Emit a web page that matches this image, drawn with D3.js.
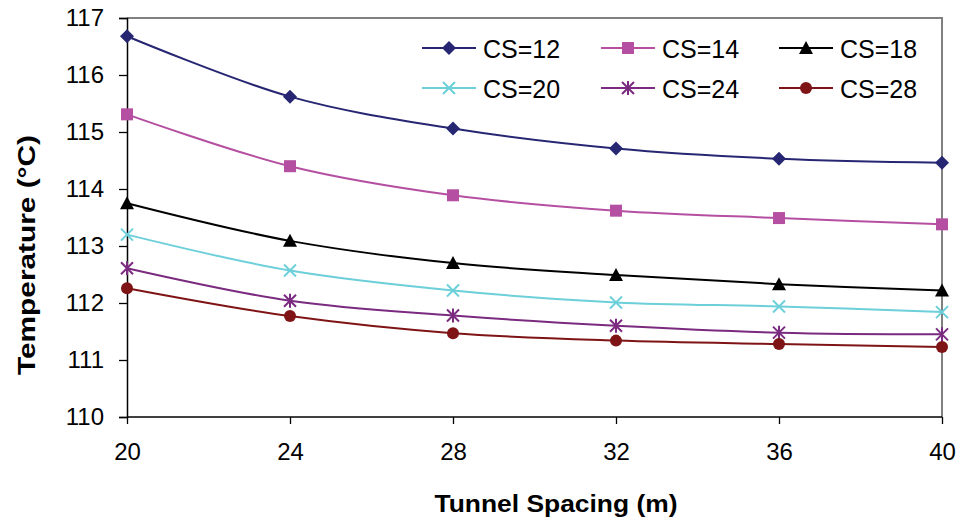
<!DOCTYPE html>
<html>
<head>
<meta charset="utf-8">
<script src="https://cdn.jsdelivr.net/npm/d3@7"></script>
<style>
  html, body { margin: 0; padding: 0; background: #fff; }
  svg { display: block; font-family: Arial, "Liberation Sans", sans-serif; }
</style>
</head>
<body>
<svg id="chart" width="961" height="525"></svg>
<script>
const spacings = [20, 24, 28, 32, 36, 40];
const seriesNames = ["CS=12", "CS=14", "CS=18", "CS=20", "CS=24", "CS=28"];
const cs12 = [116.68, 115.62, 115.06, 114.71, 114.53, 114.46];
const cs14 = [115.31, 114.40, 113.89, 113.62, 113.49, 113.38];
const cs18 = [113.75, 113.09, 112.70, 112.49, 112.33, 112.22];
const cs20 = [113.20, 112.57, 112.22, 112.01, 111.94, 111.84];
const cs24 = [112.61, 112.04, 111.78, 111.60, 111.48, 111.45];
const cs28 = [112.26, 111.77, 111.47, 111.34, 111.28, 111.23];
const yTicks = [110, 111, 112, 113, 114, 115, 116, 117];
const xTicks = [20, 24, 28, 32, 36, 40];

const seriesValues = [cs12, cs14, cs18, cs20, cs24, cs28];
const colors = ["#262673", "#B54FA1", "#000000", "#6CCFD9", "#7A2A7F", "#7F1416"];
const markerTypes = ["diamond", "square", "triangle", "x", "star", "circle"];

const svg = d3.select("#chart");
const pLeft = 127, pRight = 942, pTop = 18, pBottom = 417;

const x = d3.scaleLinear().domain([20, 40]).range([pLeft, pRight]);
const y = d3.scaleLinear().domain([110, 117]).range([pBottom, pTop]);

// plot area border (top & right gray)
svg.append("path")
  .attr("d", `M${pLeft},${pTop}H${pRight}V${pBottom}`)
  .attr("fill", "none").attr("stroke", "#808080").attr("stroke-width", 2);

// axes
const yAxis = svg.append("g").attr("transform", `translate(${pLeft},0)`)
  .call(d3.axisLeft(y).tickValues(yTicks).tickFormat(d3.format("d")).tickSizeOuter(0).tickSize(8).tickPadding(15));
const xAxis = svg.append("g").attr("transform", `translate(0,${pBottom})`)
  .call(d3.axisBottom(x).tickValues(xTicks).tickFormat(d3.format("d")).tickSizeOuter(0).tickSize(7).tickPadding(19));
[yAxis, xAxis].forEach(a => {
  a.select(".domain").attr("stroke", "#000").attr("stroke-width", 1.5);
  a.selectAll(".tick line").attr("stroke", "#000").attr("stroke-width", 1.3);
  a.selectAll(".tick text").attr("fill", "#000").style("font-size", "24px")
    .style("font-family", "Arial, 'Liberation Sans', sans-serif");
});
xAxis.select(".domain").attr("d", `M${pLeft},0H${pRight}`);

// axis titles
svg.append("text")
  .attr("x", 556).attr("y", 512).attr("text-anchor", "middle")
  .attr("textLength", 243).attr("lengthAdjust", "spacingAndGlyphs")
  .style("font-size", "23px").style("font-weight", "bold").text("Tunnel Spacing (m)");
svg.append("text")
  .attr("transform", "translate(35,255) rotate(-90)").attr("text-anchor", "middle")
  .attr("textLength", 240).attr("lengthAdjust", "spacingAndGlyphs")
  .style("font-size", "24px").style("font-weight", "bold").text("Temperature (°C)");

function drawMarker(g, type, color, cx, cy) {
  const s = 6;
  if (type === "diamond") {
    g.append("path").attr("d", `M${cx},${cy - s - 1}L${cx + s + 1},${cy}L${cx},${cy + s + 1}L${cx - s - 1},${cy}Z`).attr("fill", color);
  } else if (type === "square") {
    g.append("rect").attr("x", cx - s).attr("y", cy - s).attr("width", 2 * s).attr("height", 2 * s).attr("fill", color);
  } else if (type === "triangle") {
    g.append("path").attr("d", `M${cx},${cy - s - 1}L${cx + s + 1},${cy + s}L${cx - s - 1},${cy + s}Z`).attr("fill", color);
  } else if (type === "circle") {
    g.append("circle").attr("cx", cx).attr("cy", cy).attr("r", s).attr("fill", color);
  } else if (type === "x") {
    g.append("path").attr("d", `M${cx - s},${cy - s}L${cx + s},${cy + s}M${cx - s},${cy + s}L${cx + s},${cy - s}`)
      .attr("stroke", color).attr("stroke-width", 2).attr("fill", "none");
  } else if (type === "star") {
    g.append("path").attr("d", `M${cx - s},${cy - s}L${cx + s},${cy + s}M${cx - s},${cy + s}L${cx + s},${cy - s}M${cx},${cy - s - 1}V${cy + s + 1}`)
      .attr("stroke", color).attr("stroke-width", 2).attr("fill", "none");
  }
}

const line = d3.line().x(d => x(d[0])).y(d => y(d[1])).curve(d3.curveCatmullRom.alpha(0.5));

seriesValues.forEach((vals, i) => {
  const pts = spacings.map((s, j) => [s, vals[j]]);
  const g = svg.append("g");
  g.append("path").attr("d", line(pts)).attr("fill", "none")
    .attr("stroke", colors[i]).attr("stroke-width", 2);
  pts.forEach(p => drawMarker(g, markerTypes[i], colors[i], x(p[0]), y(p[1])));
});

// legend
const legX = [422, 601, 779];
const legY = [48, 88];
seriesNames.forEach((name, i) => {
  const lx = legX[i % 3], ly = legY[Math.floor(i / 3)];
  const g = svg.append("g");
  g.append("line").attr("x1", lx).attr("x2", lx + 54).attr("y1", ly).attr("y2", ly)
    .attr("stroke", colors[i]).attr("stroke-width", 2);
  drawMarker(g, markerTypes[i], colors[i], lx + 27, ly);
  g.append("text").attr("x", lx + 61).attr("y", ly + 10)
    .style("font-size", "25px").attr("fill", "#000").text(name);
});
</script>
</body>
</html>
